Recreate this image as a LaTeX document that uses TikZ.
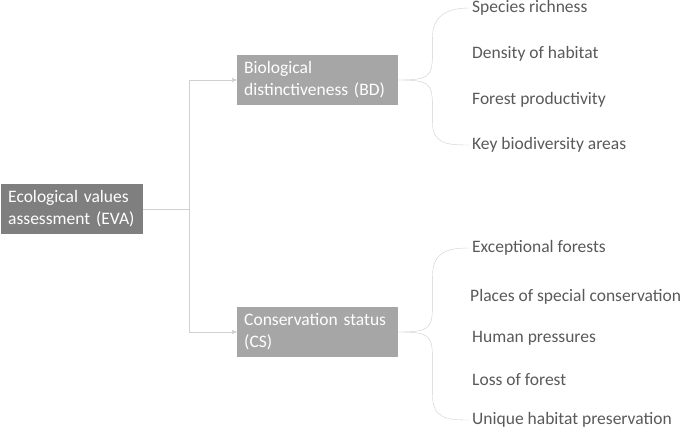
\documentclass[tikz,border=0pt]{standalone}
\usepackage{fontspec}
\setmainfont{Carlito}
\usepackage{tikz}
\usetikzlibrary{arrows.meta, positioning}
\definecolor{grisoscuro}{HTML}{7F7F7F}
\definecolor{grisclaro}{HTML}{A6A6A6}
\definecolor{grislinea}{HTML}{D0D0D0}
\definecolor{gristexto}{HTML}{595959}
\tikzstyle{raiz} = [fill=grisoscuro, text=white, rectangle, inner xsep=7pt, text width=128pt, minimum height=50pt, align=left, font=\fontsize{17.5}{22}\selectfont]
\tikzstyle{rama} = [fill=grisclaro, text=white, rectangle, inner xsep=7pt, text width=147pt, minimum height=50pt, align=left, font=\fontsize{17.5}{22}\selectfont]
\tikzstyle{hoja} = [text=gristexto, anchor=west, inner sep=3pt, font=\fontsize{17.5}{20}\selectfont]
\tikzstyle{conector} = [draw=grislinea, semithick, -{Triangle[length=5pt,width=4pt]}]
\tikzstyle{llave} = [draw=grislinea, thin]

\begin{document}
\begin{tikzpicture}[x=1pt, y=-1pt]
	\useasboundingbox (0,0) rectangle (685,436);
	\node [raiz, anchor=west] (eva) at (1,209) {Ecological values\\assessment (EVA)};
	\node [rama, anchor=west] (bd) at (237,80) {Biological\\distinctiveness (BD)};
	\node [rama, anchor=west] (cs) at (237,332) {Conservation status\\(CS)};
	% indicadores de BD
	\node [hoja] (bd1) at (469,8) {Species richness};
	\node [hoja] (bd2) at (469,54) {Density of habitat};
	\node [hoja] (bd3) at (469,100) {Forest productivity};
	\node [hoja] (bd4) at (469,145) {Key biodiversity areas};
	% indicadores de CS
	\node [hoja] (cs1) at (469,248) {Exceptional forests};
	\node [hoja] (cs2) at (467,297) {Places of special conservation};
	\node [hoja] (cs3) at (469,338) {Human pressures};
	\node [hoja] (cs4) at (469,380) {Loss of forest};
	\node [hoja] (cs5) at (469,420) {Unique habitat preservation};
	\draw [conector] (eva.east) -- ++(46,0) |- (bd.west);
	\draw [conector] (eva.east) -- ++(46,0) |- (cs.west);
	% llaves
	\draw [llave] (bd.east) .. controls +(30,0) and +(0,22) .. ([xshift=34pt, yshift=25pt]bd.east) -- ([xshift=34pt, yshift=42pt]bd.east) .. controls +(0,-22) and +(-22,0) .. (bd1.west);
	\draw [llave] (bd.east) .. controls +(30,0) and +(0,-22) .. ([xshift=34pt, yshift=-25pt]bd.east) -- ([xshift=34pt, yshift=-42pt]bd.east) .. controls +(0,22) and +(-22,0) .. (bd4.west);
	\draw [llave] (cs.east) .. controls +(30,0) and +(0,22) .. ([xshift=34pt, yshift=25pt]cs.east) -- ([xshift=34pt, yshift=55pt]cs.east) .. controls +(0,-25) and +(-22,0) .. (cs1.west);
	\draw [llave] (cs.east) .. controls +(30,0) and +(0,-22) .. ([xshift=34pt, yshift=-25pt]cs.east) -- ([xshift=34pt, yshift=-62pt]cs.east) .. controls +(0,25) and +(-22,0) .. (cs5.west);
\end{tikzpicture}
\end{document}
